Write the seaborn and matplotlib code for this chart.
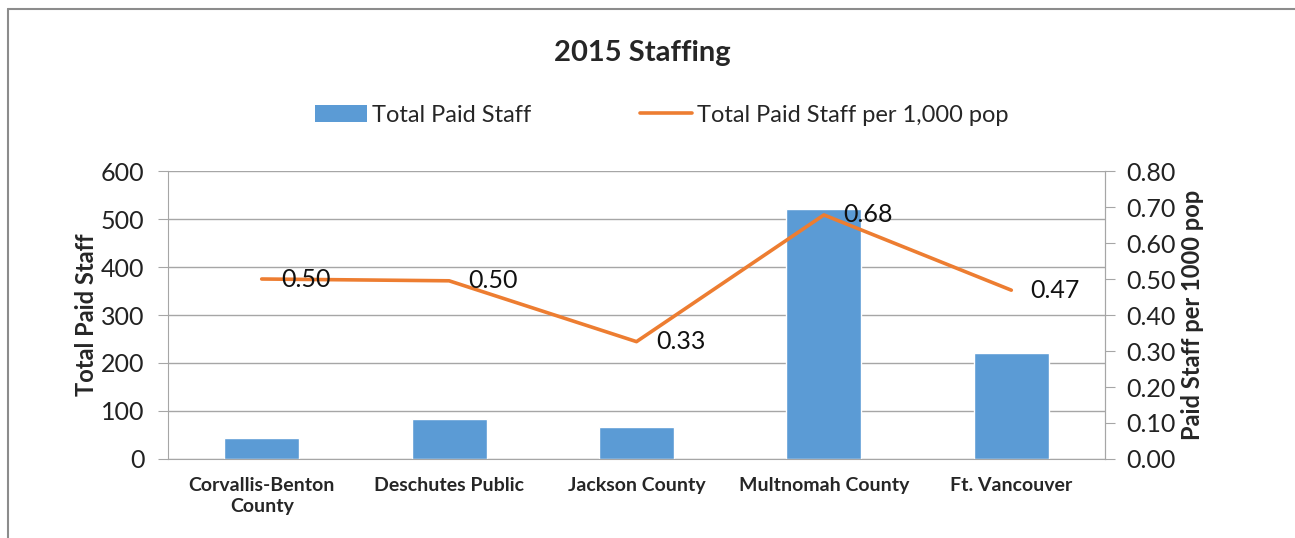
import numpy as np
import matplotlib
matplotlib.use("Agg")
import matplotlib.pyplot as plt
import seaborn as sns
from matplotlib.lines import Line2D
from matplotlib.patches import Patch

# data
categories = ["Corvallis-Benton\nCounty", "Deschutes Public", "Jackson County",
              "Multnomah County", "Ft. Vancouver"]
total_staff = [44, 83, 67, 520, 220]
staff_per_1000 = [0.50, 0.495, 0.326, 0.678, 0.469]
staff_labels = ["0.50", "0.50", "0.33", "0.68", "0.47"]

BAR_COLOR = "#5B9BD5"
LINE_COLOR = "#ED7D31"
GRID_COLOR = "#A6A6A6"
FONT = ["Lato", "DejaVu Sans"]

sns.set_style("white")
plt.rcParams["font.family"] = FONT

fig = plt.figure(figsize=(12.95, 5.38), dpi=100)
ax = fig.add_axes([168 / 1295, 1 - 459 / 538, (1105 - 168) / 1295, (459 - 171) / 538])

# bars
sns.barplot(x=categories, y=total_staff, color=BAR_COLOR, width=0.4,
            saturation=1, ax=ax, zorder=2)
ax.set_xlim(-0.5, len(categories) - 0.5)
ax.set_ylim(0, 600)
ax.set_yticks(np.arange(0, 601, 100))
ax.yaxis.grid(True, color=GRID_COLOR, linewidth=1)
ax.set_axisbelow(True)

# x ticks sit between categories like the spreadsheet chart
ax.set_xticks(range(len(categories)))
ax.set_xticklabels(categories, fontsize=14, fontweight="bold", linespacing=1.25)
ax.tick_params(axis="x", length=0, pad=13)
ax.set_xticks(np.arange(-0.5, len(categories)), minor=True)
ax.tick_params(axis="x", which="minor", length=7, color=GRID_COLOR, direction="out")
ax.tick_params(axis="y", length=7, color=GRID_COLOR, direction="out", labelsize=18,
               labelcolor="#222222", pad=10)

for side in ["left", "bottom", "right"]:
    ax.spines[side].set_color(GRID_COLOR)
ax.spines["top"].set_visible(False)
ax.set_xlabel("")
ax.set_ylabel("Total Paid Staff", fontsize=17, fontweight="bold", labelpad=2)

# line on secondary axis
ax2 = ax.twinx()
sns.lineplot(x=np.arange(len(categories)), y=staff_per_1000, color=LINE_COLOR,
             linewidth=2.6, ax=ax2, zorder=3)
ax2.set_ylim(0, 0.8)
ax2.set_yticks(np.arange(0, 0.81, 0.1))
ax2.set_yticklabels([f"{v:.2f}" for v in np.arange(0, 0.81, 0.1)])
ax2.tick_params(axis="y", length=7, color=GRID_COLOR, direction="out", labelsize=18,
                labelcolor="#222222", pad=8)
for spine in ax2.spines.values():
    spine.set_visible(False)
ax2.spines["right"].set_visible(True)
ax2.spines["right"].set_color(GRID_COLOR)
ax2.set_ylabel("Paid Staff per 1000 pop", fontsize=17, fontweight="bold", labelpad=4)
ax2.grid(False)

for i, (v, lab) in enumerate(zip(staff_per_1000, staff_labels)):
    ax2.annotate(lab, (i, v), xytext=(14, 0), textcoords="offset points",
                 ha="left", va="center", fontsize=18, color="#111111")

fig.text(0.496, 0.901, "2015 Staffing", ha="center", va="center",
         fontsize=21, fontweight="bold")

handles = [Patch(facecolor=BAR_COLOR, edgecolor="none"),
           Line2D([0], [0], color=LINE_COLOR, linewidth=2.6)]
fig.legend(handles, ["Total Paid Staff", "Total Paid Staff per 1,000 pop"],
           loc="center", bbox_to_anchor=(0.511, 0.786), ncol=2, frameon=False,
           fontsize=17, handlelength=2.2, handleheight=0.7, handletextpad=0.2,
           columnspacing=4.6)

# chart area border (left and top visible in the crop)
fig.add_artist(Line2D([8 / 1295, 8 / 1295], [0, 1 - 9 / 538], color="#8C8C8C",
                      linewidth=1.5, transform=fig.transFigure))
fig.add_artist(Line2D([8 / 1295, 1], [1 - 9 / 538, 1 - 9 / 538], color="#8C8C8C",
                      linewidth=1.5, transform=fig.transFigure))

fig.savefig("out.png", dpi=100)
